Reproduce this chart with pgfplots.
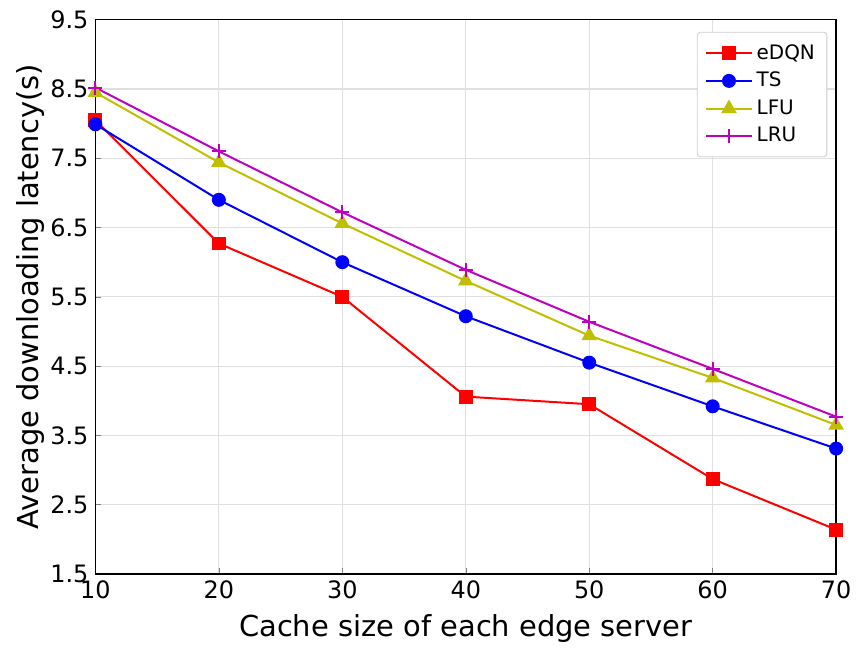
\documentclass[border={5pt 0pt 0pt 2pt}]{standalone}
\usepackage{pgfplots}
\pgfplotsset{compat=1.18}
\usepackage{fontspec}
\setmainfont{DejaVu Sans}
\begin{document}
\begin{tikzpicture}
\begin{axis}[
  scale only axis,
  width=371.5pt, height=278pt,
  xmin=10, xmax=70, ymin=1.5, ymax=9.5,
  xtick={10,20,...,70},
  ytick={1.5,2.5,...,9.5},
  yticklabel style={/pgf/number format/fixed,/pgf/number format/precision=1,/pgf/number format/fixed zerofill},
  /pgf/number format/assume math mode=true,
  tick label style={font=\fontsize{12}{14}\selectfont},
  label style={font=\fontsize{14.5}{16}\selectfont},
  xlabel={Cache size of each edge server},
  ylabel={Average downloading latency(s)},
  xlabel style={yshift=-1pt},
  ylabel style={yshift=-4pt},
  tick align=inside,
  major tick length=3pt,
  xtick pos=bottom, ytick pos=left,
  grid=major,
  major grid style={gray!25, line width=0.6pt},
  axis line style={line width=0.7pt},
  legend style={at={(0.988,0.978)}, anchor=north east, font=\fontsize{10}{12}\selectfont, draw=gray!40, rounded corners=1.5pt, row sep=1pt, inner sep=4pt},
  legend cell align=left,
  legend image code/.code={\draw[mark repeat=2,mark phase=2] plot coordinates {(0cm,0cm) (0.4cm,0cm) (0.8cm,0cm)};},
  every axis plot/.append style={line width=1pt},
  clip=false,
]
\addplot[red, mark=square*, mark size=3pt] coordinates {(10,8.05) (20,6.27) (30,5.5) (40,4.06) (50,3.95) (60,2.87) (70,2.14)};
\addlegendentry{eDQN}
\addplot[blue, mark=*, mark size=3pt] coordinates {(10,7.99) (20,6.9) (30,6.0) (40,5.22) (50,4.55) (60,3.92) (70,3.31)};
\addlegendentry{TS}
\addplot[color={rgb,1:red,0.75;green,0.75;blue,0}, mark=triangle*, mark size=3.5pt] coordinates {(10,8.45) (20,7.44) (30,6.56) (40,5.73) (50,4.94) (60,4.33) (70,3.65)};
\addlegendentry{LFU}
\addplot[color={rgb,1:red,0.75;green,0;blue,0.75}, mark=+, mark size=3.5pt] coordinates {(10,8.52) (20,7.6) (30,6.72) (40,5.89) (50,5.14) (60,4.46) (70,3.77)};
\addlegendentry{LRU}
\end{axis}
\end{tikzpicture}
\end{document}
